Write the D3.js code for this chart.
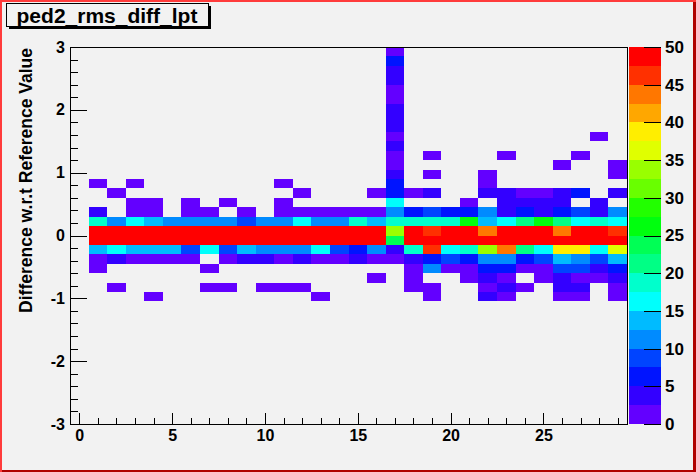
<!DOCTYPE html>
<html>
<head>
<meta charset="utf-8">
<script src="https://cdn.jsdelivr.net/npm/d3@7/dist/d3.min.js"></script>
<style>
  body { margin: 0; background: #f2f2f2; }
  svg text { font-family: "Liberation Sans", Arial, sans-serif; font-weight: bold; fill: #000; }
</style>
</head>
<body>
<svg id="chart" width="696" height="472"></svg>
<script>
// histogram binning: 30 x bins of width 1, 40 y bins of width 0.15
var xRange = [-0.5, 29.5];
var yRange = [-3, 3];
var yBinWidth = 0.15;
var zRange = [0, 50];
var nLevels = 20;

var xTicks = [0, 5, 10, 15, 20, 25];
var yTicks = [-3, -2, -1, 0, 1, 2, 3];
var zTicks = [0, 5, 10, 15, 20, 25, 30, 35, 40, 45, 50];

// lower edge of every filled y bin, top row first
var rowLow = [2.85, 2.7, 2.55, 2.4, 2.25, 2.1, 1.95, 1.8, 1.65, 1.5, 1.35, 1.2, 1.05,
  0.9, 0.75, 0.6, 0.45, 0.3, 0.15, 0, -0.15, -0.3, -0.45, -0.6, -0.75, -0.9, -1.05];

// bin contents, one array per row, x = 0..29
var counts = [
  [0,0,0,0,0,0,0,0,0,0,0,0,0,0,0,0,0,1,0,0,0,0,0,0,0,0,0,0,0,0],
  [0,0,0,0,0,0,0,0,0,0,0,0,0,0,0,0,0,6,0,0,0,0,0,0,0,0,0,0,0,0],
  [0,0,0,0,0,0,0,0,0,0,0,0,0,0,0,0,0,4,0,0,0,0,0,0,0,0,0,0,0,0],
  [0,0,0,0,0,0,0,0,0,0,0,0,0,0,0,0,0,4,0,0,0,0,0,0,0,0,0,0,0,0],
  [0,0,0,0,0,0,0,0,0,0,0,0,0,0,0,0,0,1,0,0,0,0,0,0,0,0,0,0,0,0],
  [0,0,0,0,0,0,0,0,0,0,0,0,0,0,0,0,0,1,0,0,0,0,0,0,0,0,0,0,0,0],
  [0,0,0,0,0,0,0,0,0,0,0,0,0,0,0,0,0,4,0,0,0,0,0,0,0,0,0,0,0,0],
  [0,0,0,0,0,0,0,0,0,0,0,0,0,0,0,0,0,4,0,0,0,0,0,0,0,0,0,0,0,0],
  [0,0,0,0,0,0,0,0,0,0,0,0,0,0,0,0,0,4,0,0,0,0,0,0,0,0,0,0,0,0],
  [0,0,0,0,0,0,0,0,0,0,0,0,0,0,0,0,0,1,0,0,0,0,0,0,0,0,0,0,1,0],
  [0,0,0,0,0,0,0,0,0,0,0,0,0,0,0,0,0,4,0,0,0,0,0,0,0,0,0,0,0,0],
  [0,0,0,0,0,0,0,0,0,0,0,0,0,0,0,0,0,1,0,1,0,0,0,1,0,0,0,1,0,0],
  [0,0,0,0,0,0,0,0,0,0,0,0,0,0,0,0,0,1,0,0,0,0,0,0,0,0,1,0,0,1],
  [0,0,0,0,0,0,0,0,0,0,0,0,0,0,0,0,0,4,0,1,0,0,1,0,0,0,0,0,0,1],
  [0,1,0,1,0,0,0,0,0,0,0,1,0,0,0,0,0,6,0,0,0,0,1,0,0,0,0,0,0,0],
  [0,0,1,0,0,0,0,0,0,0,0,0,1,0,0,0,1,6,1,4,0,0,4,4,1,1,4,6,0,4],
  [0,0,0,1,1,0,1,0,1,0,0,1,0,0,0,0,0,16,0,0,0,1,0,4,4,4,4,0,4,0],
  [0,4,0,1,1,0,1,1,0,1,0,1,1,1,1,1,1,11,6,9,6,6,11,4,6,4,6,9,4,11],
  [0,19,11,16,14,11,11,11,11,9,11,11,16,11,11,19,14,19,19,19,19,26,14,16,21,26,21,16,19,16],
  [0,60,60,60,60,60,60,60,60,60,60,60,60,60,60,60,60,34,60,46,60,60,44,60,60,60,44,60,60,46],
  [0,60,60,60,60,60,60,60,60,60,60,60,60,60,60,60,60,24,60,60,60,60,60,60,60,60,60,60,60,60],
  [0,14,16,14,14,14,9,16,9,14,11,11,11,16,9,6,11,4,19,46,16,19,34,44,21,16,39,39,16,36],
  [0,1,4,1,1,1,1,0,1,4,4,1,4,1,1,4,1,1,4,6,9,6,11,11,6,9,14,11,9,14],
  [0,1,0,0,0,0,0,1,0,0,0,0,0,0,0,0,0,0,1,11,1,1,6,6,1,1,9,9,4,6],
  [0,0,0,0,0,0,0,0,0,0,0,0,0,0,0,0,1,0,1,0,0,1,4,1,0,1,4,1,1,4],
  [0,0,1,0,0,0,0,1,1,0,1,1,1,0,0,0,0,0,1,1,0,0,1,4,1,0,4,4,0,1],
  [0,0,0,0,1,0,0,0,0,0,0,0,0,1,0,0,0,0,0,1,0,0,4,1,0,0,1,1,0,1]
];

// ROOT "pretty" palette: 49 HLS hues from violet to red, then kRed
var palette = d3.range(49).map(function (i) {
  return d3.hsl(280 - (i + 1) * 5.6, 1, 0.5).formatHex();
});
palette.push("#ff0000");

function levelColor(level) {
  return palette[Math.floor((level + 0.99) * palette.length / nLevels)];
}
function valueColor(v) {
  var level = Math.floor((v - zRange[0]) / ((zRange[1] - zRange[0]) / nLevels));
  level = Math.max(0, Math.min(nLevels - 1, level));
  return levelColor(level);
}

// plain hyphen for negatives, like ROOT
function plain(d) { return String(d); }

// frame in pixels
var frame = { left: 70, right: 627, top: 47, bottom: 424 };

var svg = d3.select("#chart");

var x = d3.scaleLinear().domain(xRange).range([frame.left, frame.right]);
var y = d3.scaleLinear().domain(yRange).range([frame.bottom, frame.top]);
var z = d3.scaleLinear().domain(zRange).range([frame.bottom, frame.top]);

// canvas background and border
svg.append("rect").attr("width", 696).attr("height", 472).attr("fill", "#f2f2f2");
svg.append("rect").attr("x", 0).attr("y", 0).attr("width", 696).attr("height", 2).attr("fill", "#ff3b3b");
svg.append("rect").attr("x", 0).attr("y", 0).attr("width", 2).attr("height", 472).attr("fill", "#ff3b3b");
svg.append("rect").attr("x", 2).attr("y", 470).attr("width", 694).attr("height", 2).attr("fill", "#b00000");
svg.append("rect").attr("x", 693).attr("y", 2).attr("width", 3).attr("height", 470).attr("fill", "#b00000");

// flatten the cells
var cells = [];
rowLow.forEach(function (low, r) {
  counts[r].forEach(function (v, i) {
    if (v > 0) cells.push({ xc: i, low: low, v: v });
  });
});

svg.append("g")
  .selectAll("rect")
  .data(cells)
  .enter()
  .append("rect")
  .attr("x", function (d) { return Math.round(x(d.xc - 0.5)); })
  .attr("width", function (d) { return Math.round(x(d.xc + 0.5)) - Math.round(x(d.xc - 0.5)); })
  .attr("y", function (d) { return Math.round(y(d.low + yBinWidth)); })
  .attr("height", function (d) { return Math.round(y(d.low)) - Math.round(y(d.low + yBinWidth)); })
  .attr("fill", function (d) { return valueColor(d.v); })
  .attr("shape-rendering", "crispEdges");

// x axis, ticks pointing into the frame
svg.append("g")
  .attr("transform", "translate(0," + frame.bottom + ")")
  .call(d3.axisBottom(x).tickValues(xTicks).tickSize(-11).tickPadding(6).tickFormat(plain));
svg.append("g")
  .attr("transform", "translate(0," + frame.bottom + ")")
  .call(d3.axisBottom(x).tickValues(d3.range(0, 30, 1)).tickSize(-5.6).tickFormat(""));

// y axis
svg.append("g")
  .attr("transform", "translate(" + frame.left + ",0)")
  .call(d3.axisLeft(y).tickValues(yTicks).tickSize(-16.7).tickPadding(5).tickFormat(plain));
svg.append("g")
  .attr("transform", "translate(" + frame.left + ",0)")
  .call(d3.axisLeft(y).tickValues(d3.range(-3, 3.01, 0.2)).tickSize(-8.4).tickFormat(""));

svg.selectAll(".tick line").attr("stroke", "#000").attr("shape-rendering", "crispEdges");
svg.selectAll(".domain").remove();
svg.selectAll(".tick text")
  .attr("font-family", null)
  .style("font-size", "16px")
  .style("font-family", "'Liberation Sans', Arial, sans-serif")
  .style("font-weight", "bold");

// frame
svg.append("rect")
  .attr("x", frame.left + 0.5)
  .attr("y", frame.top + 0.5)
  .attr("width", frame.right - frame.left)
  .attr("height", frame.bottom - frame.top)
  .attr("fill", "none")
  .attr("stroke", "#000");

// y axis title
svg.append("text")
  .attr("transform", "translate(32," + (frame.top + 1) + ") rotate(-90)")
  .attr("text-anchor", "end")
  .style("font-size", "17.5px")
  .text("Difference w.r.t Reference Value");

// colour bar
var bar = { left: 629, right: 661 };
var levelStep = (zRange[1] - zRange[0]) / nLevels;
svg.append("g")
  .selectAll("rect")
  .data(d3.range(nLevels))
  .enter()
  .append("rect")
  .attr("x", bar.left)
  .attr("width", bar.right - bar.left)
  .attr("y", function (k) { return Math.round(z(zRange[0] + (k + 1) * levelStep)); })
  .attr("height", function (k) {
    return Math.round(z(zRange[0] + k * levelStep)) - Math.round(z(zRange[0] + (k + 1) * levelStep));
  })
  .attr("fill", function (k) { return levelColor(k); })
  .attr("shape-rendering", "crispEdges");

svg.append("g")
  .attr("transform", "translate(" + bar.right + ",0)")
  .call(d3.axisRight(z).tickValues(zTicks).tickSize(-17).tickPadding(4).tickFormat(plain))
  .call(function (g) { g.select(".domain").remove(); })
  .call(function (g) {
    g.selectAll(".tick line").attr("stroke", "#000").attr("shape-rendering", "crispEdges");
    g.selectAll(".tick text")
      .attr("font-family", null)
      .style("font-size", "17px")
      .style("font-family", "'Liberation Sans', Arial, sans-serif")
      .style("font-weight", "bold");
  });

// title box with shadow
svg.append("rect").attr("x", 9).attr("y", 6).attr("width", 202).attr("height", 23).attr("fill", "#000");
svg.append("rect").attr("x", 6.5).attr("y", 3.5).attr("width", 202).attr("height", 23)
  .attr("fill", "#f2f2f2").attr("stroke", "#000");
svg.append("text")
  .attr("x", 107)
  .attr("y", 23)
  .attr("text-anchor", "middle")
  .style("font-size", "21px")
  .text("ped2_rms_diff_lpt");
</script>
</body>
</html>
